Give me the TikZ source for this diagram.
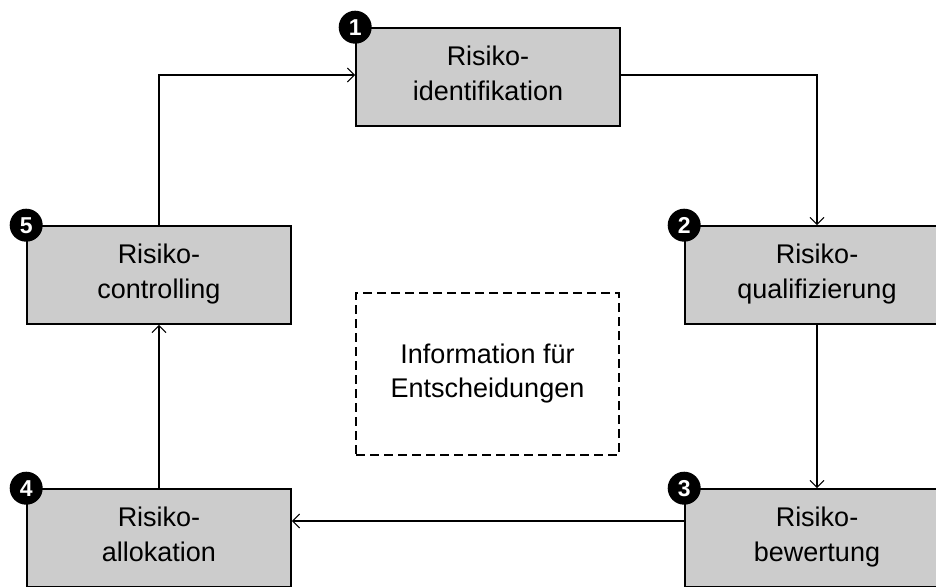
\documentclass[tikz,border=0pt]{standalone}
\usepackage{fontspec}
\setmainfont{Liberation Sans}
\usetikzlibrary{arrows.meta}
\definecolor{boxgray}{RGB}{204,204,204}
\newcommand\twolines[4]{\rule{0pt}{#3}#1\\#2\rule[-#4]{0pt}{#4}}
\tikzset{
  stepbox/.style={draw=black, line width=1.6pt, fill=boxgray, minimum width=264pt, minimum height=98pt,
    inner sep=0pt, align=center, font=\fontsize{27}{35}\selectfont},
  infobox/.style={draw=black, line width=1.5pt, dash pattern=on 9pt off 5pt, minimum width=263pt, minimum height=162pt,
    inner sep=0pt, align=center, font=\fontsize{27}{34}\selectfont},
  badge/.style={circle, fill=black, minimum size=33pt, inner sep=0pt, text=white,
    font=\fontsize{23}{23}\selectfont\bfseries},
  conn/.style={line width=1.1pt, -{Straight Barb[length=7pt,width=14pt,line width=1.1pt]}}
}
\begin{document}
\begin{tikzpicture}[x=1pt,y=-1pt]
\clip (0,0) rectangle (936,586);
\fill[white] (0,0) rectangle (936,586);
\node[stepbox] (b1) at (488,77) {\twolines{Risiko-}{identifikation}{18pt}{7pt}};
\node[stepbox] (b2) at (817,275) {\twolines{Risiko-}{qualifizierung}{18pt}{7pt}};
\node[stepbox] (b3) at (817,538) {\twolines{Risiko-}{bewertung}{18pt}{7pt}};
\node[stepbox] (b4) at (159,538) {\twolines{Risiko-}{allokation}{18pt}{7pt}};
\node[stepbox] (b5) at (159,275) {\twolines{Risiko-}{controlling}{18pt}{7pt}};
\node[infobox] (info) at (487.5,374) {\twolines{Information für}{Entscheidungen}{18pt}{0pt}};
\node[badge] (c1) at (b1.north west) {1};
\node[badge] (c2) at (b2.north west) {2};
\node[badge] (c3) at (b3.north west) {3};
\node[badge] (c4) at (b4.north west) {4};
\node[badge] (c5) at (b5.north west) {5};
\draw[conn] (b5.north) |- ([yshift=2pt]b1.west);
\draw[conn] ([yshift=2pt]b1.east) -| (b2.north);
\draw[conn] (b2.south) -- (b3.north);
\draw[conn] ([yshift=17pt]b3.west) -- ([yshift=17pt]b4.east);
\draw[conn] (b4.north) -- (b5.south);
\end{tikzpicture}
\end{document}
